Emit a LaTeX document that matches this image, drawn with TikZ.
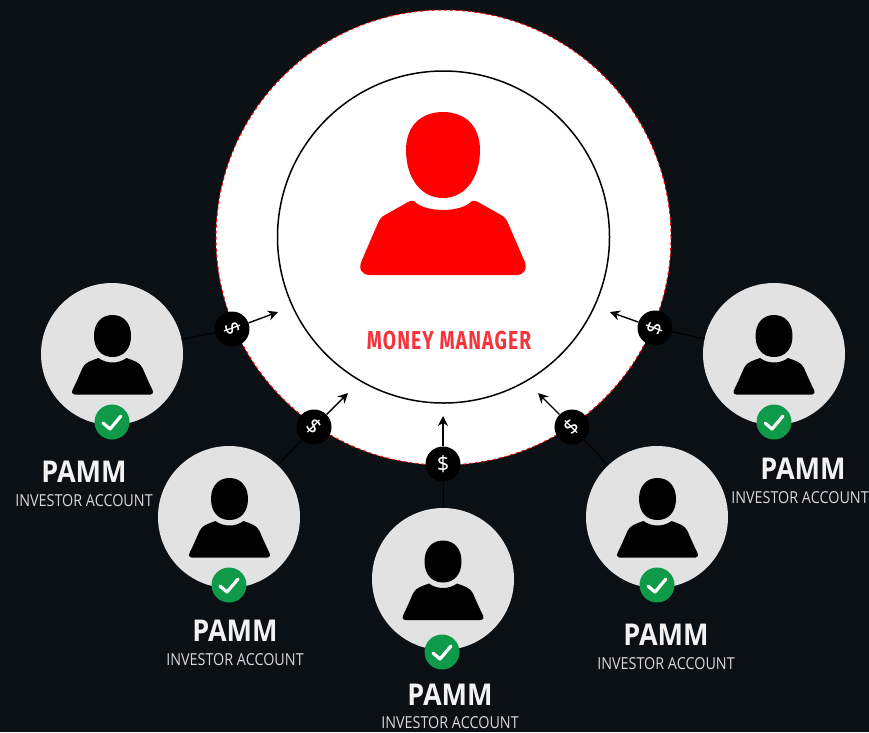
\documentclass[tikz,border=0pt]{standalone}
\usepackage{fontspec}
\usetikzlibrary{arrows.meta,calc}
\setmainfont{Open Sans}
\newfontfamily\mgrfont[LetterSpace=6]{Fira Sans}
\newfontfamily\dollarfont{Noto Sans}
\definecolor{bgdark}{HTML}{0B1015}
\definecolor{disc}{HTML}{E2E2E2}
\definecolor{okgreen}{HTML}{0E9A48}
\definecolor{mgrred}{HTML}{FF0000}
\definecolor{mgrtext}{HTML}{F5343C}
\definecolor{captext}{HTML}{F2F2F2}
\definecolor{subtext}{HTML}{D8D8D8}
\tikzset{
  bigdisc/.style={circle,fill=white,draw=mgrred,line width=1pt,dash pattern=on 3pt off 3pt,minimum size=455pt,inner sep=0pt},
  innerring/.style={circle,draw=black,line width=1.5pt,minimum size=332pt,inner sep=0pt},
  investor/.style={circle,fill=disc,minimum size=142pt,inner sep=0pt},
  okbadge/.style={circle,fill=okgreen,minimum size=35pt,inner sep=0pt},
  coin/.style={circle,fill=black,minimum size=35pt,inner sep=0pt,text=white,font=\dollarfont\bfseries\fontsize{21}{21}\selectfont},
  link/.style={draw=black,line width=1pt},
  flow/.style={draw=black,line width=1.4pt,-{Stealth[length=10pt,width=10pt]}},
  tick/.style={draw=white,line width=3.2pt,line cap=round,line join=round},
  pamm/.style={text=captext,font=\bfseries\fontsize{30}{30}\selectfont,xscale=.9,inner sep=0pt},
  acct/.style={text=subtext,font=\fontsize{16.5}{17}\selectfont,xscale=.87,inner sep=0pt},
  mgr/.style={text=mgrtext,font=\mgrfont\bfseries\fontsize{26}{26}\selectfont,xscale=.74,inner sep=0pt},
  minihead/.pic={
    \fill[black] (0,-39) .. controls (11,-39) and (18.5,-31) .. (18.5,-18)
      .. controls (18.5,-5) and (11,3) .. (0,3)
      .. controls (-11,3) and (-18.5,-5) .. (-18.5,-18)
      .. controls (-18.5,-31) and (-11,-39) .. (0,-39) -- cycle;
    \fill[black] (-14,4) .. controls (-6,10) and (6,10) .. (14,4)
      .. controls (22,7) and (27,8) .. (30,14)
      .. controls (33,21) and (37,30) .. (40,36)
      .. controls (41,39) and (40,40.5) .. (38,40.5)
      -- (-38,40.5)
      .. controls (-40,40.5) and (-41,39) .. (-40,36)
      .. controls (-37,30) and (-33,21) .. (-30,14)
      .. controls (-27,8) and (-22,7) .. (-14,4) -- cycle;
  },
  bigperson/.pic={
    \fill[mgrred] (0,-88) .. controls (22,-88) and (37,-74) .. (37,-50)
      .. controls (37,-22) and (22,-2) .. (0,-2)
      .. controls (-22,-2) and (-37,-22) .. (-37,-50)
      .. controls (-37,-74) and (-22,-88) .. (0,-88) -- cycle;
    \fill[mgrred] (-29,1) .. controls (-18,13) and (18,13) .. (29,1)
      .. controls (31,0) and (33,1) .. (35,2)
      -- (58,15) .. controls (62,17) and (63,19) .. (65,23)
      -- (81,60) .. controls (85,68) and (82,75) .. (73,75)
      -- (-73,75) .. controls (-82,75) and (-85,68) .. (-81,60)
      -- (-65,23) .. controls (-63,19) and (-62,17) .. (-58,15)
      -- (-35,2) .. controls (-33,1) and (-31,0) .. (-29,1) -- cycle;
  }
}
\begin{document}
\begin{tikzpicture}[x=1pt,y=-1pt]
\useasboundingbox[fill=bgdark] (0,0) rectangle (869,732);
% manager
\node[bigdisc] (mgrdisc) at (443.5,237.5) {};
\node[innerring] (mgrring) at (443.5,237) {};
\pic at (443,200) {bigperson};
\node[mgr] (mgrlabel) at (449,340) {MONEY MANAGER};
% investors
\node[investor] (inva) at (112,354) {};
\node[investor] (invb) at (229,517) {};
\node[investor] (invc) at (443,579) {};
\node[investor] (invd) at (657,517) {};
\node[investor] (inve) at (774,354) {};
\pic at (112.5,354) {minihead};
\pic at (229.5,517) {minihead};
\pic at (443,579.5) {minihead};
\pic at (657.5,517) {minihead};
\pic at (774,354) {minihead};
% coins
\node[coin,rotate=-70] (coina) at (232,329) {\$};
\node[coin,rotate=-45] (coinb) at (314,427) {\$};
\node[coin] (coinc) at (443,464) {\$};
\node[coin,rotate=45] (coind) at (572,427) {\$};
\node[coin,rotate=70] (coine) at (655,328) {\$};
% connector ends
\coordinate (tipa) at (278,312);
\coordinate (tipb) at (348,393);
\coordinate (tipc) at (443,416);
\coordinate (tipd) at (538,393);
\coordinate (tipe) at (610,312);
\draw[link] (inva) -- (coina);
\draw[link] (invb) -- (coinb);
\draw[link] (invc) -- (coinc);
\draw[link] (invd) -- (coind);
\draw[link] (inve) -- (coine);
\draw[flow] (coina) -- (tipa);
\draw[flow] (coinb) -- (tipb);
\draw[flow] (coinc) -- (tipc);
\draw[flow] (coind) -- (tipd);
\draw[flow] (coine) -- (tipe);
% badges
\foreach \n/\bx/\by in {a/112/422,b/229/585,c/442/652,d/657/585,e/774/422}{
  \node[okbadge] (ok\n) at (\bx,\by) {};
  \draw[tick] ($(ok\n)+(-9,1)$) -- ($(ok\n)+(-2,7)$) -- ($(ok\n)+(9,-6)$);
}
% labels
\node[pamm] (pa) at (84,472) {PAMM};
\node[acct] (aa) at (84,501) {INVESTOR ACCOUNT};
\node[pamm] (pb) at (235,631) {PAMM};
\node[acct] (ab) at (235,660) {INVESTOR ACCOUNT};
\node[pamm] (pc) at (450,695) {PAMM};
\node[acct] (ac) at (450,722.5) {INVESTOR ACCOUNT};
\node[pamm] (pd) at (666,635) {PAMM};
\node[acct] (ad) at (666,664) {INVESTOR ACCOUNT};
\node[pamm] (pe) at (803,469) {PAMM};
\node[acct] (ae) at (800,498) {INVESTOR ACCOUNT};
\end{tikzpicture}
\end{document}
